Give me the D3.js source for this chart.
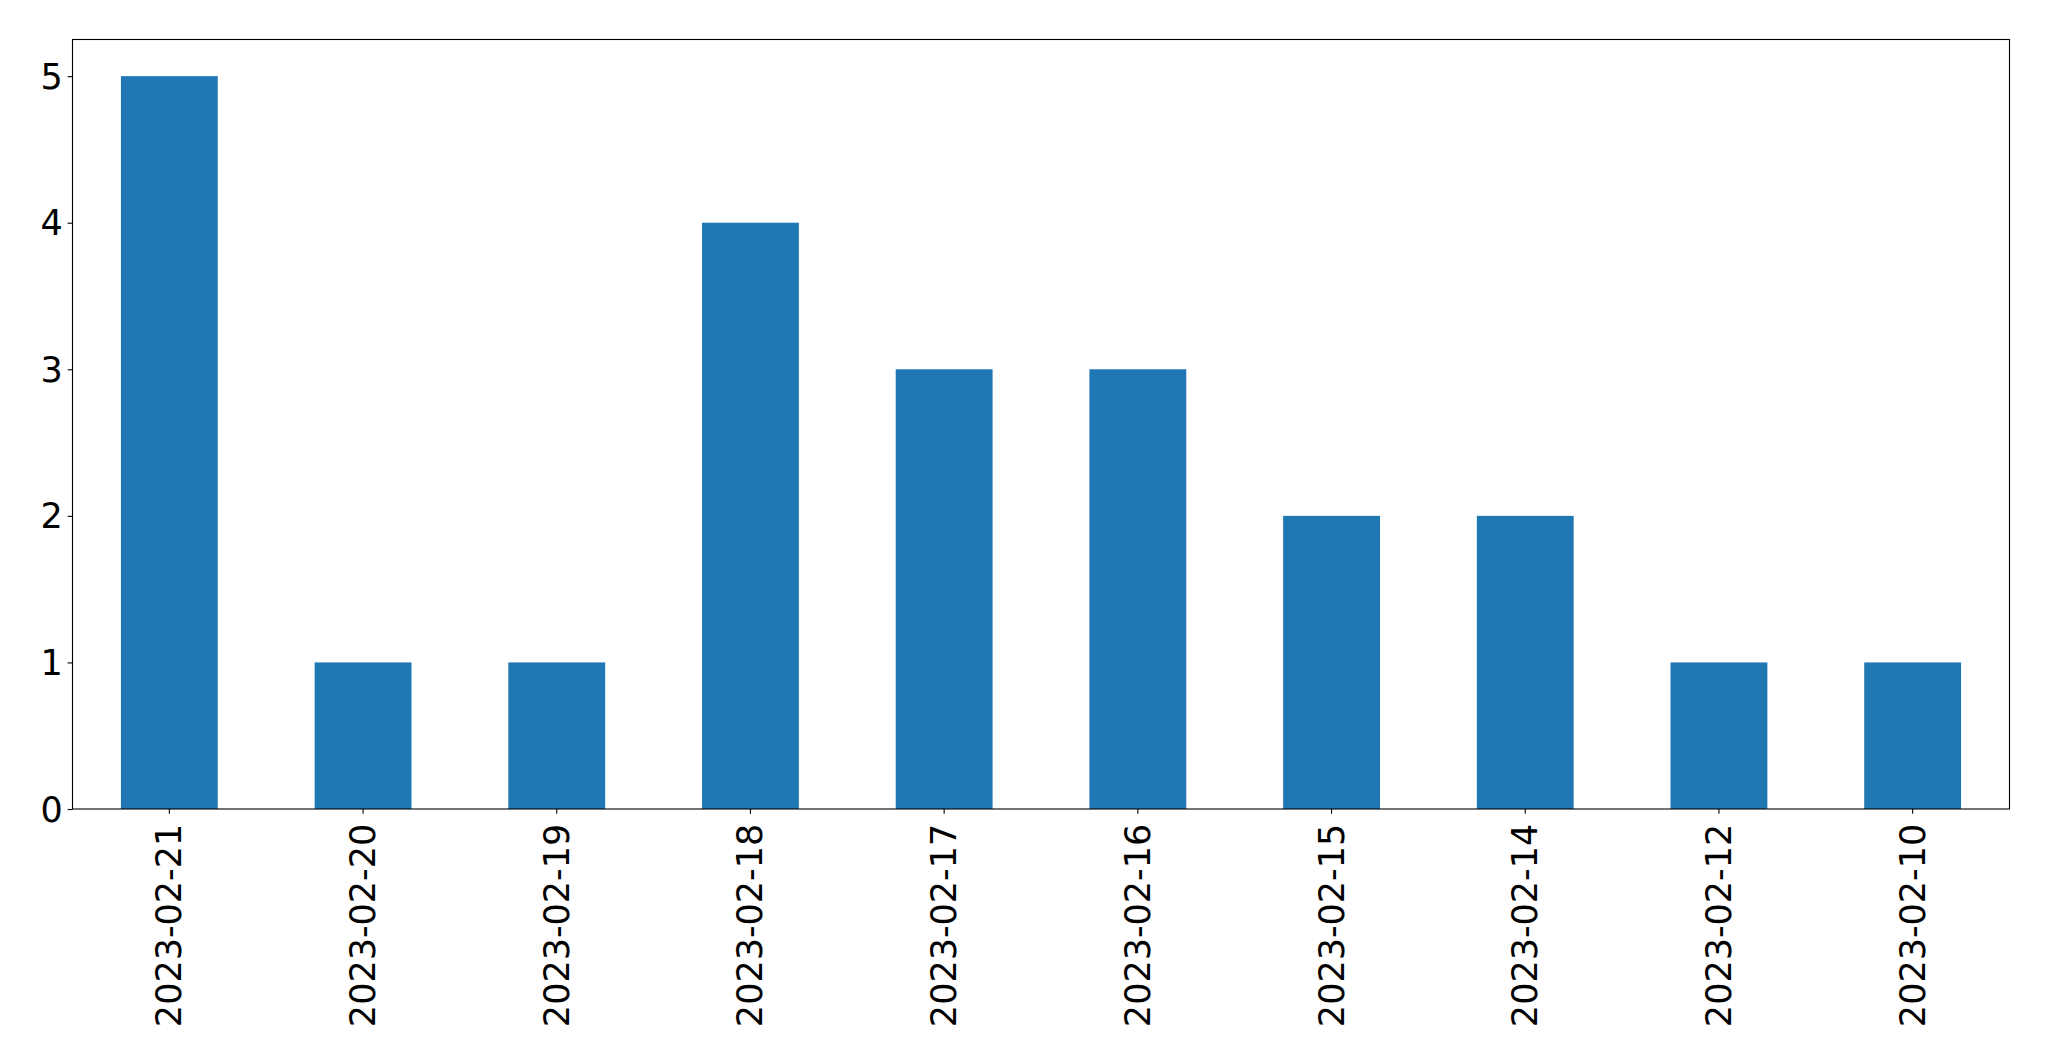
<!DOCTYPE html>
<html><head><meta charset="utf-8">
<script src="https://cdn.jsdelivr.net/npm/d3@7"></script>
<style>body{margin:0;background:#fff}svg{display:block}</style>
</head><body>
<script>
const categories = ["2023-02-21","2023-02-20","2023-02-19","2023-02-18","2023-02-17","2023-02-16","2023-02-15","2023-02-14","2023-02-12","2023-02-10"];
const values = [5,1,1,4,3,3,2,2,1,1];
const yTicks = [0,1,2,3,4,5];

const W = 2049, H = 1061;
const m = {left:72.5, right:2009.5, top:39.5, bottom:809};
const fs = 35, tickLen = 4.86, pad = 4.86;

const svg = d3.select("body").append("svg").attr("width",W).attr("height",H);
const x = d3.scaleBand().domain(categories).range([m.left,m.right]).paddingInner(0.5).paddingOuter(0.25);
const y = d3.scaleLinear().domain([0,5.25]).range([m.bottom,m.top]);

svg.append("g").selectAll("rect").data(values).join("rect")
  .attr("x",(d,i)=>x(categories[i]))
  .attr("width",x.bandwidth())
  .attr("y",d=>y(d))
  .attr("height",d=>y(0)-y(d))
  .attr("fill","#1f77b4");

const yAxis = svg.append("g").attr("transform",`translate(${m.left},0)`)
  .call(d3.axisLeft(y).tickValues(yTicks).tickFormat(d3.format("d")).tickSize(tickLen).tickPadding(pad));
yAxis.select(".domain").remove();
yAxis.selectAll("text").attr("font-family","DejaVu Sans").attr("font-size",fs).attr("fill","#000").attr("dy",null).attr("dominant-baseline","central");
yAxis.selectAll("line").attr("stroke","#000").attr("stroke-width",1.1);

const xAxis = svg.append("g").attr("transform",`translate(0,${m.bottom})`)
  .call(d3.axisBottom(x).tickSize(tickLen).tickPadding(pad));
xAxis.select(".domain").remove();
xAxis.selectAll("line").attr("stroke","#000").attr("stroke-width",1.1);
xAxis.selectAll("text").attr("font-family","DejaVu Sans").attr("font-size",fs).attr("fill","#000")
  .attr("y",null).attr("dy",null)
  .attr("transform",`translate(0,${tickLen+pad+5}) rotate(-90)`)
  .attr("text-anchor","end").attr("dominant-baseline","central");

svg.append("rect").attr("x",m.left).attr("y",m.top).attr("width",m.right-m.left).attr("height",m.bottom-m.top)
  .attr("fill","none").attr("stroke","#000").attr("stroke-width",1.1);
</script>
</body></html>
